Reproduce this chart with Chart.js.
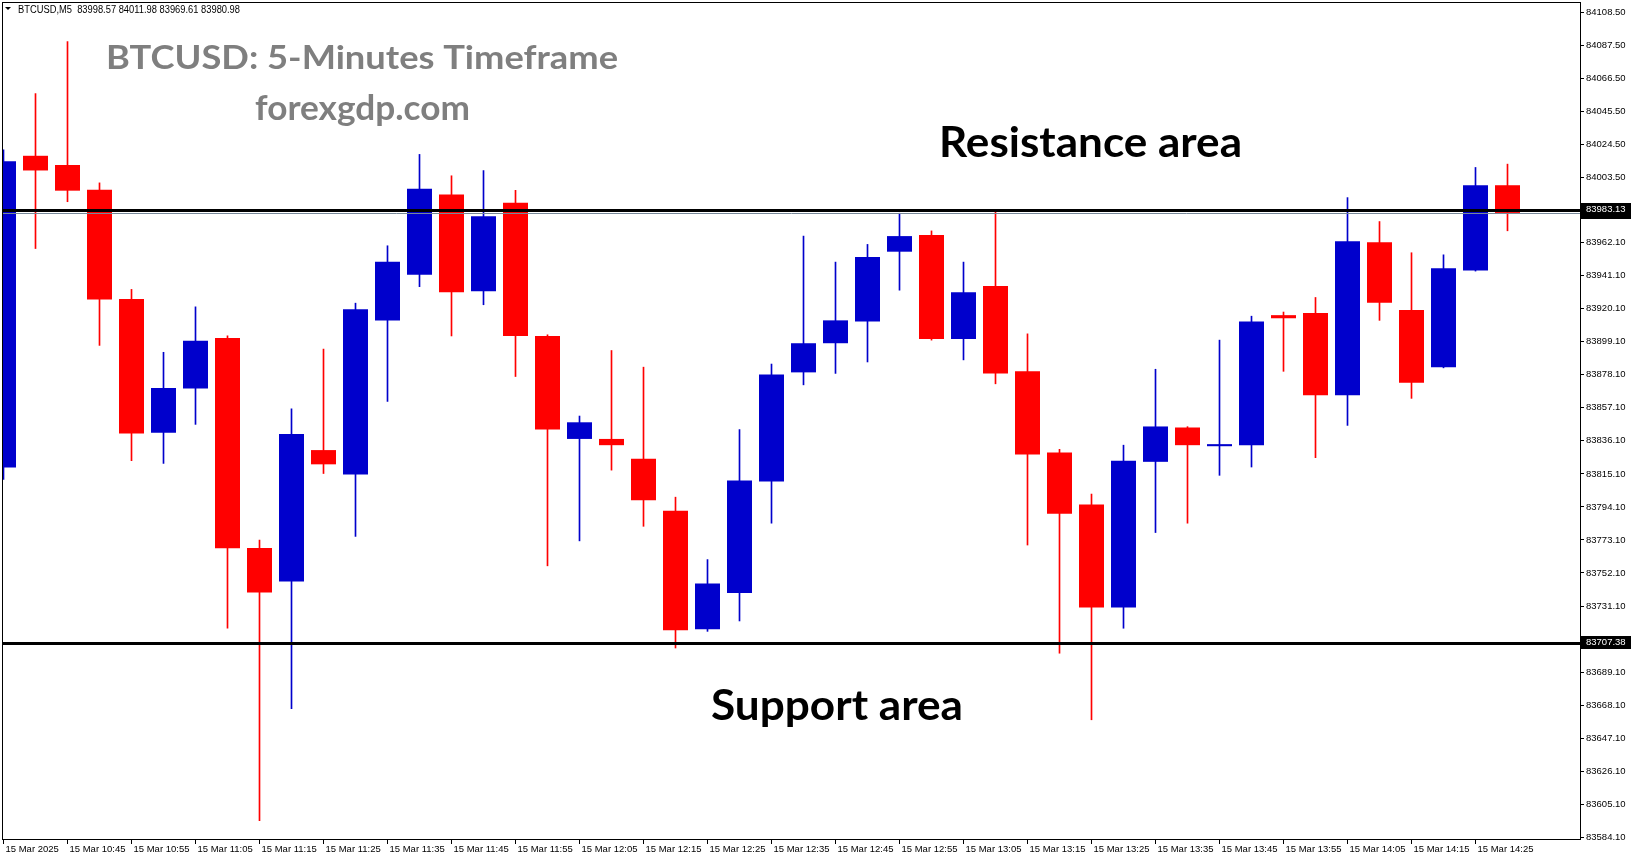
<!DOCTYPE html>
<html>
<head>
<meta charset="utf-8">
<title>BTCUSD M5</title>
<script src="https://cdn.jsdelivr.net/npm/chart.js@4.4.1/dist/chart.umd.min.js"></script>
<style>
  html, body { margin: 0; padding: 0; background: #fff; overflow: hidden; }
  canvas { display: block; }
</style>
</head>
<body>
<canvas id="btcChart" width="1631" height="861"></canvas>
<script>
// candle times, 5 minute bars (15 Mar 2025)
const times = ['10:35','10:40','10:45','10:50','10:55','11:00','11:05','11:10','11:15','11:20','11:25','11:30',
  '11:35','11:40','11:45','11:50','11:55','12:00','12:05','12:10','12:15','12:20','12:25','12:30',
  '12:35','12:40','12:45','12:50','12:55','13:00','13:05','13:10','13:15','13:20','13:25','13:30',
  '13:35','13:40','13:45','13:50','13:55','14:00','14:05','14:10','14:15','14:20','14:25','14:30'];

const opens = [83819.13, 84017.29, 84011.45, 83995.69, 83926.23, 83841.31, 83869.33, 83901.43, 83768.05, 83746.75, 83830.22, 83814.75,
  83912.52, 83941.70, 83992.68, 83931.20, 83987.39, 83902.77, 83837.31, 83837.31, 83824.75, 83791.69, 83716.32, 83739.46,
  83810.20, 83879.62, 83898.14, 83912.02, 83956.32, 83966.90, 83900.78, 83934.50, 83880.29, 83828.72, 83795.66, 83730.20,
  83822.76, 83844.58, 83832.68, 83833.34, 83915.99, 83917.31, 83865.08, 83962.27, 83919.29, 83882.93, 83944.42, 83998.57];
const highs = [84021.08, 84056.82, 84089.87, 84000.07, 83932.36, 83892.38, 83921.27, 83902.89, 83773.02, 83856.48, 83894.42, 83923.61,
  83960.09, 84018.16, 84004.58, 84007.89, 83995.33, 83903.50, 83851.86, 83893.51, 83882.93, 83800.29, 83760.62, 83843.26,
  83884.91, 83966.24, 83949.71, 83960.95, 83980.78, 83969.54, 83949.71, 83982.10, 83904.10, 83830.70, 83802.27, 83833.34,
  83881.61, 83845.10, 83900.12, 83915.33, 83917.97, 83927.23, 83990.70, 83975.49, 83955.66, 83954.34, 84009.87, 84011.98];
const lows = [83811.54, 83958.33, 83988.10, 83896.76, 83823.50, 83821.75, 83846.56, 83716.98, 83594.70, 83665.91, 83815.33, 83775.35,
  83861.15, 83934.11, 83902.77, 83922.60, 83876.98, 83756.65, 83772.52, 83817.48, 83781.77, 83704.42, 83715.00, 83721.61,
  83783.76, 83871.69, 83878.96, 83886.24, 83931.86, 83900.12, 83887.56, 83872.35, 83769.87, 83701.11, 83658.80, 83716.98,
  83777.81, 83783.76, 83814.17, 83819.46, 83880.29, 83825.41, 83845.91, 83912.68, 83863.10, 83882.50, 83944.00, 83969.61];
const closes = [84013.78, 84007.95, 83995.11, 83925.94, 83840.72, 83869.62, 83899.67, 83767.76, 83739.75, 83840.43, 83821.17, 83919.81,
  83949.87, 83996.27, 83930.53, 83978.80, 83902.77, 83843.26, 83847.89, 83833.34, 83798.30, 83715.66, 83745.41, 83810.86,
  83878.30, 83898.14, 83912.68, 83953.01, 83966.24, 83900.78, 83930.53, 83878.96, 83827.39, 83789.71, 83730.20, 83823.43,
  83845.24, 83833.34, 83834.00, 83912.02, 83914.01, 83865.08, 83962.93, 83923.92, 83873.01, 83945.74, 83998.63, 83980.98];

// axis labels as shown by the terminal
const xTickLabels = ['15 Mar 2025','15 Mar 10:45','15 Mar 10:55','15 Mar 11:05','15 Mar 11:15','15 Mar 11:25','15 Mar 11:35',
  '15 Mar 11:45','15 Mar 11:55','15 Mar 12:05','15 Mar 12:15','15 Mar 12:25','15 Mar 12:35','15 Mar 12:45','15 Mar 12:55',
  '15 Mar 13:05','15 Mar 13:15','15 Mar 13:25','15 Mar 13:35','15 Mar 13:45','15 Mar 13:55','15 Mar 14:05','15 Mar 14:15','15 Mar 14:25'];
const yTickLabels = ['84108.50','84087.50','84066.50','84045.50','84024.50','84003.50','83982.50','83962.10','83941.10',
  '83920.10','83899.10','83878.10','83857.10','83836.10','83815.10','83794.10','83773.10','83752.10','83731.10',
  '83710.10','83689.10','83668.10','83647.10','83626.10','83605.10','83584.10'];

const resistance = 83983.13;
const support = 83707.38;
const bidPrice = 83980.98;

const BULL = '#0000cc';
const BEAR = '#ff0000';
const AXIS_FONT = {family: 'Liberation Sans, Arial, sans-serif', size: 9.5};

const candleColor = c => closes[c.dataIndex] >= opens[c.dataIndex] ? BULL : BEAR;

// squeeze a bold label into the width it has in the picture
function drawFit(ctx, text, x, base, w, size, color) {
    ctx.save();
    ctx.font = `bold ${size}px Lato, "Open Sans", sans-serif`;
    const m = ctx.measureText(text).width;
    ctx.translate(x, base);
    ctx.scale(w / m, 1);
    ctx.fillStyle = color;
    ctx.textBaseline = 'alphabetic';
    ctx.fillText(text, 0, 0);
    ctx.restore();
}

function priceBox(ctx, yPix, label, left) {
    ctx.fillStyle = '#000';
    ctx.fillRect(left, Math.round(yPix) - 7, 1631 - left, 13);
    ctx.fillStyle = '#fff';
    ctx.font = '9.5px Liberation Sans, Arial, sans-serif';
    ctx.textBaseline = 'middle';
    ctx.textAlign = 'left';
    ctx.fillText(label, left + 5, Math.round(yPix) - 0.5);
}

const overlay = {
    id: 'overlay',
    afterDraw(chart) {
        const {ctx, chartArea: a, scales: {y}} = chart;
        ctx.save();

        // bid line + horizontal levels
        const yb = Math.round(y.getPixelForValue(bidPrice)) + 0.5;
        ctx.strokeStyle = '#778899';
        ctx.lineWidth = 1;
        ctx.beginPath(); ctx.moveTo(a.left, yb); ctx.lineTo(a.right, yb); ctx.stroke();

        ctx.strokeStyle = '#000';
        ctx.lineWidth = 3;
        [resistance, support].forEach(v => {
            const yy = Math.round(y.getPixelForValue(v)) + 0.5;
            ctx.beginPath(); ctx.moveTo(a.left, yy); ctx.lineTo(a.right, yy); ctx.stroke();
        });

        // frame
        ctx.lineWidth = 1;
        ctx.strokeRect(a.left + 0.5, a.top + 0.5, a.right - a.left - 1, a.bottom - a.top - 1);

        // price labels on the axis
        priceBox(ctx, y.getPixelForValue(bidPrice), bidPrice.toFixed(2), a.right);
        priceBox(ctx, y.getPixelForValue(resistance), resistance.toFixed(2), a.right);
        priceBox(ctx, y.getPixelForValue(support), support.toFixed(2), a.right);

        // header line
        ctx.fillStyle = '#000';
        ctx.beginPath(); ctx.moveTo(5, 7); ctx.lineTo(11, 7); ctx.lineTo(8, 10); ctx.closePath(); ctx.fill();
        ctx.font = '10px Liberation Sans, Arial, sans-serif';
        ctx.textBaseline = 'alphabetic';
        ctx.fillText('BTCUSD,M5  ' + [opens[47], highs[47], lows[47], closes[47]].map(v => v.toFixed(2)).join(' '), 18, 13, 222);

        ctx.restore();

        drawFit(ctx, 'BTCUSD: 5-Minutes Timeframe', 106, 69, 512, 33, '#7f7f7f');
        drawFit(ctx, 'forexgdp.com', 255, 120, 215, 35, '#7f7f7f');
        drawFit(ctx, 'Resistance area', 939, 157, 303, 42, '#000');
        drawFit(ctx, 'Support area', 711, 720, 252, 42, '#000');
    }
};

const idx = times.map((t, i) => i);

new Chart(document.getElementById('btcChart'), {
    type: 'bar',
    data: {
        datasets: [
            {
                // bodies
                data: idx.map(i => ({x: i, y: [opens[i], closes[i]]})),
                backgroundColor: candleColor,
                borderWidth: 0,
                grouped: false,
                categoryPercentage: 1,
                barPercentage: 0.78125,
                minBarLength: 1,
                order: 0
            },
            {
                // wicks
                data: idx.map(i => ({x: i, y: [lows[i], highs[i]]})),
                backgroundColor: candleColor,
                borderWidth: 0,
                grouped: false,
                categoryPercentage: 1,
                barPercentage: 1,
                maxBarThickness: 1,
                order: 1
            }
        ]
    },
    options: {
        responsive: false,
        animation: false,
        devicePixelRatio: 1,
        layout: {padding: {left: 2, top: 2, right: 0, bottom: 0}},
        plugins: {legend: {display: false}, tooltip: {enabled: false}},
        scales: {
            x: {
                type: 'linear',
                offset: false,
                min: -0.046875,
                max: 49.296875,
                border: {display: false},
                grid: {offset: false, drawOnChartArea: false, drawTicks: true, tickLength: 4, color: '#000'},
                ticks: {
                    autoSkip: false,
                    maxRotation: 0,
                    align: 'start',
                    labelOffset: 2,
                    padding: 0,
                    color: '#000',
                    font: AXIS_FONT,
                    callback: (v, i) => xTickLabels[i]
                },
                afterBuildTicks: s => { s.ticks = xTickLabels.map((l, i) => ({value: i * 2})); },
                afterFit: s => { s.height = 21; s.paddingLeft = 0; s.paddingRight = 0; }
            },
            y: {
                position: 'right',
                offset: false,
                min: 83582.38,
                max: 84115.04,
                border: {display: false},
                grid: {drawOnChartArea: false, drawTicks: true, tickLength: 3, color: '#000'},
                ticks: {
                    crossAlign: 'near',
                    padding: 2,
                    color: '#000',
                    font: AXIS_FONT,
                    callback: (v, i) => yTickLabels[i]
                },
                afterBuildTicks: s => { s.ticks = yTickLabels.map(l => ({value: Number(l)})); },
                afterFit: s => { s.width = 50; s.paddingTop = 0; s.paddingBottom = 0; }
            }
        }
    },
    plugins: [overlay]
});
</script>
</body>
</html>
